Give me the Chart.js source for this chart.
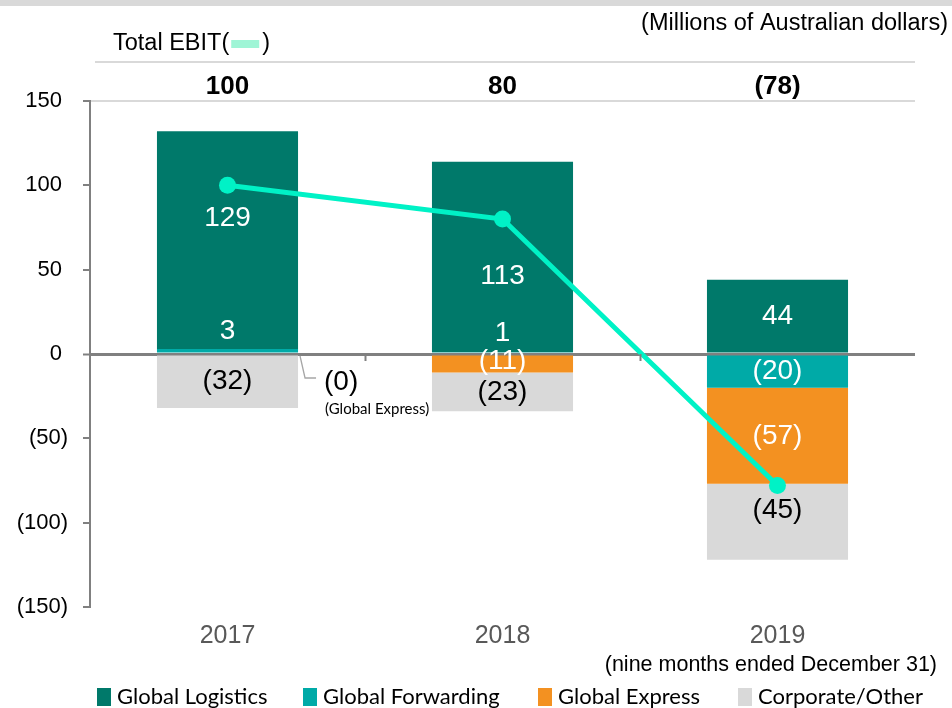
<!DOCTYPE html>
<html><head><meta charset="utf-8">
<script src="https://cdn.jsdelivr.net/npm/chart.js@4.4.1/dist/chart.umd.min.js"></script>
<style>html,body{margin:0;padding:0;background:#fff;}#wrap{width:952px;height:708px;position:relative;}</style>
</head><body><div id="wrap"><canvas id="c"></canvas></div>
<script>
// ---- data ----
const categories = ['2017', '2018', '2019'];
const globalLogistics = [129, 113, 44];
const globalForwarding = [3, 1, -20];
const globalExpress = [0, -11, -57];
const corporateOther = [-32, -23, -45];
const totalEbit = [100, 80, -78];
const yTicks = [150, 100, 50, 0, -50, -100, -150];
const seriesNames = ['Global Logistics', 'Global Forwarding', 'Global Express', 'Corporate/Other'];
const seriesData = [globalLogistics, globalForwarding, globalExpress, corporateOther];
// stacking order from the zero line outward
const stackOrder = [1, 0, 2, 3];

// ---- styles ----
const seriesColors = ['#00796A', '#00AAA7', '#F39121', '#D9D9D9'];
const labelColors = ['#FFFFFF', '#FFFFFF', '#FFFFFF', '#000000'];
const lineColor = '#00F2C6';
const labelNudge = { '0-0': -22, '0-1': 19, '1-0': -19, '1-1': -19, '2-1': -3, '3-2': -12 };
const ARIAL = '"Liberation Sans", Arial, sans-serif';
const CAL = 'Lato, "Noto Sans", sans-serif';

const fmt = v => v < 0 ? '(' + (-v) + ')' : String(v);

const barSets = stackOrder.map(si => ({
  type: 'bar', label: seriesNames[si], data: seriesData[si], backgroundColor: seriesColors[si],
  seriesIdx: si, stack: 'seg', order: 1, categoryPercentage: 1, barPercentage: 0.513, borderWidth: 0
}));
const lineSet = {
  type: 'line', label: 'Total EBIT', data: totalEbit, stack: 'line', order: 0,
  borderColor: lineColor, backgroundColor: lineColor, borderWidth: 5,
  pointRadius: 8.5, pointBackgroundColor: lineColor, pointBorderWidth: 0, tension: 0
};

const deco = {
  id: 'deco',
  beforeDraw(chart) {
    const ctx = chart.ctx;
    ctx.save();
    ctx.fillStyle = '#fff'; ctx.fillRect(0, 0, chart.width, chart.height);
    ctx.fillStyle = '#D9D9D9'; ctx.fillRect(0, 0, chart.width, 6);
    const a = chart.chartArea;
    ctx.strokeStyle = '#D9D9D9'; ctx.lineWidth = 2;
    ctx.beginPath(); ctx.moveTo(a.left + 5, 62); ctx.lineTo(a.right, 62); ctx.stroke();
    ctx.fillStyle = '#000'; ctx.font = '23.5px ' + ARIAL; ctx.textBaseline = 'middle';
    ctx.textAlign = 'right'; ctx.fillText('(Millions of Australian dollars)', 948, 24);
    ctx.textAlign = 'left';
    const t1 = 'Total EBIT(';
    ctx.fillText(t1, 113, 44);
    const w1 = ctx.measureText(t1).width;
    ctx.fillStyle = '#9FF5D6'; ctx.fillRect(113 + w1 + 2, 40, 28, 8);
    ctx.fillStyle = '#000'; ctx.fillText(')', 113 + w1 + 33, 44);
    ctx.restore();
  },
  beforeDatasetDraw(chart, args) {
    if (chart.data.datasets[args.index].type !== 'line') return;
    const ctx = chart.ctx;
    ctx.save();
    ctx.font = '28px ' + ARIAL; ctx.textAlign = 'center'; ctx.textBaseline = 'middle';
    chart.data.datasets.forEach((ds, di) => {
      if (ds.type !== 'bar') return;
      const si = ds.seriesIdx;
      chart.getDatasetMeta(di).data.forEach((el, i) => {
        const v = ds.data[i];
        if (v === 0) return;
        const cy = (el.y + el.base) / 2 + (labelNudge[si + '-' + i] || 0);
        ctx.fillStyle = labelColors[si];
        ctx.fillText(fmt(v), el.x, cy);
      });
    });
    // (0) Global Express annotation for 2017
    const exIdx = chart.data.datasets.findIndex(d => d.seriesIdx === 2);
    const el = chart.getDatasetMeta(exIdx).data[0];
    const zy = chart.scales.y.getPixelForValue(0);
    const r = el.x + el.width / 2;
    ctx.strokeStyle = '#A6A6A6'; ctx.lineWidth = 1.3;
    ctx.beginPath(); ctx.moveTo(r + 2, zy + 2); ctx.lineTo(r + 7, zy + 24); ctx.lineTo(r + 18, zy + 24); ctx.stroke();
    ctx.fillStyle = '#000'; ctx.textAlign = 'left';
    ctx.fillText('(' + globalExpress[0] + ')', r + 26, zy + 28);
    ctx.font = '15px ' + CAL;
    ctx.fillText('(' + seriesNames[2] + ')', r + 27, zy + 55);
    ctx.restore();
  },
  afterDraw(chart) {
    const ctx = chart.ctx, x = chart.scales.x, y = chart.scales.y;
    ctx.save();
    const zy = y.getPixelForValue(0);
    ctx.strokeStyle = '#808080'; ctx.lineWidth = 2;
    for (let i = 0; i < categories.length - 1; i++) {
      const bx = Math.round((x.getPixelForValue(i) + x.getPixelForValue(i + 1)) / 2) + 0.5;
      ctx.beginPath(); ctx.moveTo(bx, zy); ctx.lineTo(bx, zy + 7); ctx.stroke();
    }
    ctx.fillStyle = '#000'; ctx.font = 'bold 26px ' + ARIAL; ctx.textAlign = 'center'; ctx.textBaseline = 'middle';
    totalEbit.forEach((v, i) => ctx.fillText(fmt(v), x.getPixelForValue(i), 87));
    ctx.font = '21.5px ' + ARIAL; ctx.textAlign = 'right';
    ctx.fillText('(nine months ended December 31)', 937, 665);
    const lx = [97, 303, 538, 738];
    ctx.font = '22px ' + CAL; ctx.textAlign = 'left';
    seriesNames.forEach((n, i) => {
      ctx.fillStyle = seriesColors[i]; ctx.fillRect(lx[i], 688, 14, 18);
      ctx.fillStyle = '#000'; ctx.fillText(n, lx[i] + 20, 697);
    });
    ctx.restore();
  }
};

new Chart(document.getElementById('c'), {
  data: { labels: categories, datasets: [...barSets, lineSet] },
  options: {
    responsive: true, maintainAspectRatio: false, animation: false,
    layout: { padding: { top: 101, right: 37, bottom: 61, left: 0 } },
    plugins: { legend: { display: false }, tooltip: { enabled: false } },
    scales: {
      x: {
        stacked: true,
        grid: { display: false, drawTicks: false }, border: { display: false },
        ticks: { color: '#595959', font: { family: ARIAL, size: 25 }, padding: 14 },
        afterFit(s) { s.height = 40; }
      },
      y: {
        stacked: true, min: -150, max: 150,
        afterBuildTicks(s) { s.ticks = yTicks.map(v => ({ value: v })); },
        afterFit(s) { s.width = 90; },
        border: { display: true, color: '#808080', width: 2 },
        grid: {
          color: c => c.tick && c.tick.value === 0 ? '#808080' : (c.tick && c.tick.value === 150 ? '#D9D9D9' : 'rgba(0,0,0,0)'),
          lineWidth: c => c.tick && c.tick.value === 0 ? 3 : 2,
          tickColor: '#808080', tickWidth: 2, tickLength: 7
        },
        ticks: { color: '#000', font: { family: ARIAL, size: 22 }, padding: 15, callback: v => v < 0 ? fmt(v) : fmt(v) + ' ' }
      }
    }
  },
  plugins: [deco]
});
</script></body></html>
